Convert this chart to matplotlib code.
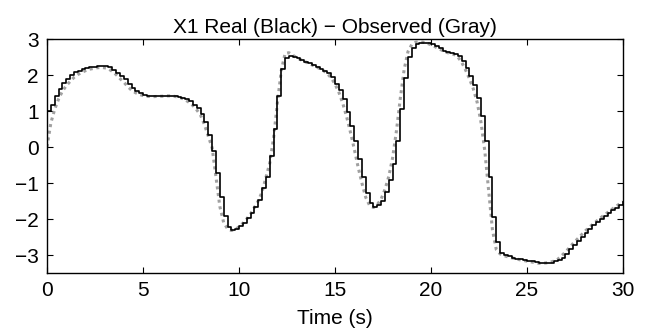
import numpy as np
import matplotlib
matplotlib.use("Agg")
import matplotlib.pyplot as plt

plt.rcParams['font.family'] = ['Liberation Sans', 'DejaVu Sans']

# sample period 0.2 s, t = 0 .. 30
dt = 0.2

# real state (black, sample & hold)
x1_real = [
    1.00, 1.18, 1.43, 1.62, 1.78, 1.90, 2.00, 2.07, 2.12, 2.16,
    2.19, 2.21, 2.23, 2.24, 2.24, 2.24, 2.22, 2.15, 2.05, 1.97,
    1.88, 1.75, 1.63, 1.55, 1.49, 1.45, 1.42, 1.41, 1.41, 1.41,
    1.42, 1.42, 1.42, 1.42, 1.40, 1.37, 1.32, 1.27, 1.18, 1.09,
    0.93, 0.69, 0.34, -0.12, -0.73, -1.40, -1.92, -2.22, -2.30, -2.27,
    -2.20, -2.11, -1.97, -1.83, -1.68, -1.47, -1.15, -0.82, -0.24, 0.50,
    1.41, 2.16, 2.48, 2.53, 2.51, 2.46, 2.41, 2.36, 2.32, 2.27,
    2.22, 2.18, 2.12, 2.06, 1.94, 1.76, 1.58, 1.32, 0.97, 0.59,
    0.16, -0.34, -0.82, -1.27, -1.55, -1.66, -1.61, -1.49, -1.24, -0.93,
    -0.47, 0.18, 1.06, 1.92, 2.51, 2.76, 2.86, 2.90, 2.90, 2.88,
    2.85, 2.80, 2.74, 2.68, 2.64, 2.60, 2.57, 2.54, 2.39, 2.20,
    1.97, 1.71, 1.37, 0.87, 0.18, -0.82, -1.94, -2.64, -2.94, -3.00,
    -3.04, -3.07, -3.10, -3.12, -3.14, -3.16, -3.18, -3.20, -3.22, -3.23,
    -3.23, -3.21, -3.18, -3.15, -3.08, -2.96, -2.84, -2.72, -2.60, -2.49,
    -2.38, -2.27, -2.18, -2.09, -2.00, -1.92, -1.84, -1.76, -1.69, -1.61,
    -1.54,
]

# observer estimate (gray, dotted)
x1_obs = [
    0.00, 0.67, 1.05, 1.33, 1.55, 1.70, 1.82, 1.93, 2.01, 2.07,
    2.12, 2.16, 2.18, 2.20, 2.21, 2.20, 2.17, 2.10, 2.01, 1.90,
    1.80, 1.68, 1.58, 1.51, 1.46, 1.43, 1.41, 1.40, 1.40, 1.41,
    1.41, 1.42, 1.42, 1.41, 1.39, 1.36, 1.31, 1.24, 1.15, 1.03,
    0.88, 0.62, 0.30, -0.02, -0.84, -1.65, -2.10, -2.27, -2.32, -2.29,
    -2.22, -2.12, -2.00, -1.86, -1.68, -1.50, -1.25, -0.85, -0.45, 0.25,
    1.23, 2.12, 2.60, 2.62, 2.55, 2.48, 2.43, 2.38, 2.33, 2.28,
    2.23, 2.18, 2.12, 2.04, 1.92, 1.75, 1.52, 1.22, 0.85, 0.42,
    -0.05, -0.55, -1.00, -1.40, -1.62, -1.68, -1.60, -1.45, -1.18, -0.82,
    -0.30, 0.45, 1.35, 2.15, 2.65, 2.85, 2.91, 2.92, 2.91, 2.88,
    2.84, 2.79, 2.73, 2.68, 2.63, 2.60, 2.57, 2.50, 2.35, 2.14,
    1.90, 1.62, 1.25, 0.70, -0.10, -1.20, -2.30, -2.85, -2.97, -3.02,
    -3.05, -3.08, -3.10, -3.13, -3.15, -3.17, -3.19, -3.21, -3.23, -3.23,
    -3.22, -3.20, -3.17, -3.12, -3.02, -2.92, -2.80, -2.68, -2.57, -2.46,
    -2.35, -2.25, -2.16, -2.07, -1.98, -1.90, -1.82, -1.74, -1.66, -1.59,
    -1.52,
]

t = np.arange(len(x1_real)) * dt

fig = plt.figure(figsize=(6.46, 3.32), dpi=100)
ax = fig.add_axes([0.0728, 0.1777, 0.8916, 0.7048])

ax.plot(t, x1_obs, color='#a0a0a0', linestyle=(0, (1, 1.2)), linewidth=2.2)
ax.step(t, x1_real, where='post', color='black', linewidth=1.2)

ax.set_xlim(0, 30)
ax.set_ylim(-3.5, 3)
ax.set_xticks([0, 5, 10, 15, 20, 25, 30])
ax.set_yticks([-3, -2, -1, 0, 1, 2, 3])
ax.tick_params(direction='in', top=True, right=True, length=4, labelsize=15, pad=6)
for s in ax.spines.values():
    s.set_linewidth(1.0)

ax.set_title('X1 Real (Black) \u2212 Observed (Gray)', fontsize=15, pad=4)
ax.set_xlabel('Time (s)', fontsize=15, labelpad=6)

fig.savefig('out.png', dpi=100)
